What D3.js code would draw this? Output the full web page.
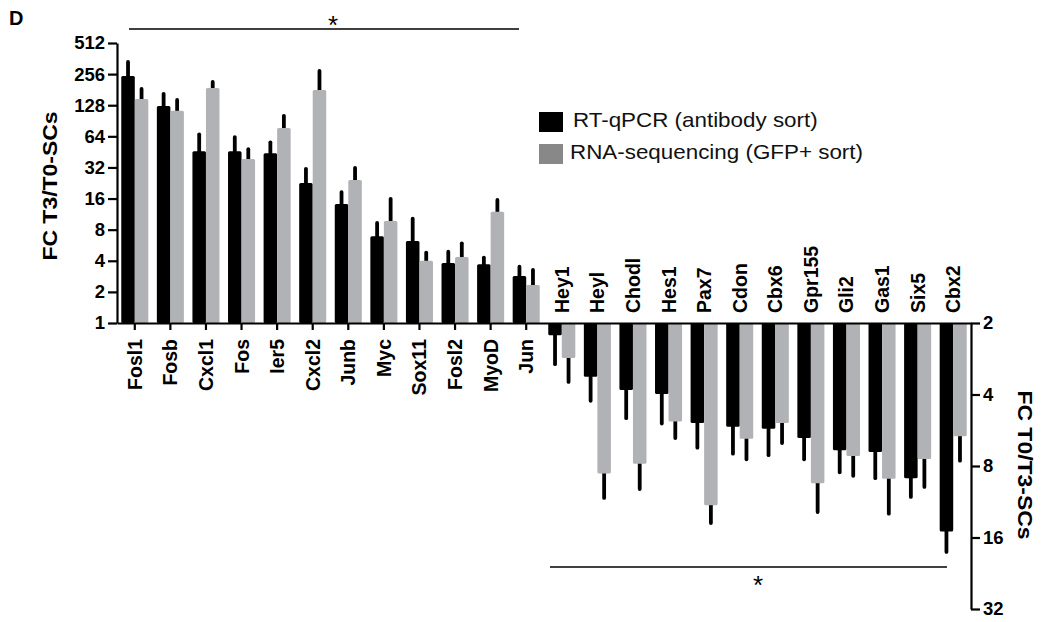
<!DOCTYPE html>
<html>
<head>
<meta charset="utf-8">
<script src="https://cdn.jsdelivr.net/npm/d3@7"></script>
<style>
  body { margin: 0; background: #fff; }
  text { font-family: "Liberation Sans", Arial, sans-serif; }
</style>
</head>
<body>
<svg id="chart" width="1041" height="622"></svg>
<script>
// up-regulated genes (T3 vs T0), left axis
let upGenes = ["Fosl1", "Fosb", "Cxcl1", "Fos", "Ier5", "Cxcl2", "Junb", "Myc", "Sox11", "Fosl2", "MyoD", "Jun"];
let upQpcr = [246, 126, 46, 46, 44, 22.6, 14.2, 6.9, 6.2, 3.8, 3.7, 2.85];
let upQpcrErr = [336, 165, 67, 63, 56, 31, 18.5, 9.3, 10.2, 4.9, 4.3, 3.5];
let upSeq = [147, 113, 188, 38.7, 77, 180, 24.2, 9.7, 4.0, 4.35, 11.9, 2.33];
let upSeqErr = [184, 144, 215, 48, 101, 275, 31.6, 15.9, 4.8, 5.9, 15.5, 3.26];

// down-regulated genes (T0 vs T3), right axis
let downGenes = ["Hey1", "Heyl", "Chodl", "Hes1", "Pax7", "Cdon", "Cbx6", "Gpr155", "Gli2", "Gas1", "Six5", "Cbx2"];
let downQpcr = [2.25, 3.37, 3.83, 3.98, 5.27, 5.47, 5.58, 6.1, 6.86, 6.98, 9.0, 15.1];
let downQpcrErr = [2.98, 4.25, 5.03, 5.3, 6.7, 7.1, 7.2, 7.5, 8.5, 9.0, 10.8, 18.4];
let downSeq = [2.81, 8.6, 7.83, 5.2, 11.7, 6.14, 5.27, 9.45, 7.26, 9.06, 7.47, 6.0];
let downSeqErr = [3.54, 10.9, 10.0, 6.1, 13.9, 7.5, 6.4, 12.5, 8.8, 12.7, 9.8, 7.6];

let leftTicks = [1, 2, 4, 8, 16, 32, 64, 128, 256, 512];
let rightTicks = [2, 4, 8, 16, 32];
let series = ["RT-qPCR (antibody sort)", "RNA-sequencing (GFP+ sort)"];
let barColors = ["#000000", "#b1b2b6"];
let legendColors = ["#000000", "#888888"];

let svg = d3.select("#chart");
let baseY = 323;

let x = d3.scaleBand()
  .domain(upGenes.concat(downGenes))
  .range([117, 971])
  .paddingInner(0.24)
  .paddingOuter(0.12);

let sub = d3.scaleBand()
  .domain([0, 1])
  .range([0, x.bandwidth()]);

let yLeft = d3.scaleLog().base(2).domain([1, 512]).range([baseY, 43]);
let yRight = d3.scaleLog().base(2).domain([2, 32]).range([baseY, 609]);

// rows for bars
let rows = [];
upGenes.forEach(function(g, i) {
  rows.push({ gene: g, s: 0, v: upQpcr[i], e: upQpcrErr[i], side: "up" });
  rows.push({ gene: g, s: 1, v: upSeq[i], e: upSeqErr[i], side: "up" });
});
downGenes.forEach(function(g, i) {
  rows.push({ gene: g, s: 0, v: downQpcr[i], e: downQpcrErr[i], side: "down" });
  rows.push({ gene: g, s: 1, v: downSeq[i], e: downSeqErr[i], side: "down" });
});

function yOf(d, v) {
  return d.side == "up" ? yLeft(v) : yRight(v);
}

// error bars
svg.append("g")
  .selectAll("line")
  .data(rows)
  .enter()
  .append("line")
  .attr("x1", function(d) { return x(d.gene) + sub(d.s) + sub.bandwidth() / 2; })
  .attr("x2", function(d) { return x(d.gene) + sub(d.s) + sub.bandwidth() / 2; })
  .attr("y1", function(d) { return yOf(d, d.v); })
  .attr("y2", function(d) { return yOf(d, d.e); })
  .attr("stroke", "#000")
  .attr("stroke-width", 3.8)
  .attr("stroke-linecap", "round");

// bars
svg.append("g")
  .selectAll("rect")
  .data(rows)
  .enter()
  .append("rect")
  .attr("x", function(d) { return x(d.gene) + sub(d.s); })
  .attr("width", sub.bandwidth())
  .attr("y", function(d) { return Math.min(baseY, yOf(d, d.v)); })
  .attr("height", function(d) { return Math.abs(yOf(d, d.v) - baseY); })
  .attr("rx", 1.5)
  .attr("fill", function(d) { return barColors[d.s]; });

// left axis
let gl = svg.append("g")
  .attr("transform", "translate(117,0)")
  .call(d3.axisLeft(yLeft).tickValues(leftTicks).tickFormat(d3.format("d")).tickSize(9).tickSizeOuter(0));

// bottom baseline with ticks under up genes
let gb = svg.append("g")
  .attr("transform", "translate(0," + baseY + ")")
  .call(d3.axisBottom(x).tickValues(upGenes).tickFormat("").tickSize(7).tickSizeOuter(0));

// right axis
let gr = svg.append("g")
  .attr("transform", "translate(971,0)")
  .call(d3.axisRight(yRight).tickValues(rightTicks).tickFormat(d3.format("d")).tickSize(9).tickSizeOuter(0));

[gl, gb, gr].forEach(function(g) {
  g.selectAll("path, line").attr("stroke", "#000").attr("stroke-width", 2.2);
  g.selectAll("text")
    .attr("fill", "#000")
    .style("font-size", "18.5px")
    .style("font-weight", "bold")
    .style("font-family", "'Liberation Sans', Arial, sans-serif");
});
gl.selectAll("text").attr("x", -12);
gr.selectAll("text").attr("x", 12);

// gene labels
svg.append("g")
  .selectAll("text")
  .data(upGenes)
  .enter()
  .append("text")
  .attr("transform", function(d) {
    return "translate(" + (x(d) + x.bandwidth() / 2 + 7) + "," + (baseY + 16) + ") rotate(-90)";
  })
  .attr("text-anchor", "end")
  .style("font-size", "19.5px")
  .style("font-weight", "bold")
  .text(function(d) { return d; });

svg.append("g")
  .selectAll("text")
  .data(downGenes)
  .enter()
  .append("text")
  .attr("transform", function(d) {
    return "translate(" + (x(d) + x.bandwidth() / 2 + 7) + "," + (baseY - 10) + ") rotate(-90)";
  })
  .attr("text-anchor", "start")
  .style("font-size", "19.5px")
  .style("font-weight", "bold")
  .text(function(d) { return d; });

// axis titles
svg.append("text")
  .attr("transform", "translate(57,186) rotate(-90) scale(1.12,1)")
  .attr("text-anchor", "middle")
  .style("font-size", "20.5px")
  .style("font-weight", "bold")
  .text("FC T3/T0-SCs");

svg.append("text")
  .attr("transform", "translate(1018,465) rotate(90) scale(1.12,1)")
  .attr("text-anchor", "middle")
  .style("font-size", "20.5px")
  .style("font-weight", "bold")
  .text("FC T0/T3-SCs");

// panel letter
svg.append("text")
  .attr("x", 9)
  .attr("y", 25)
  .style("font-size", "20px")
  .style("font-weight", "bold")
  .text("D");

// significance brackets
svg.append("line")
  .attr("x1", 129).attr("x2", 519).attr("y1", 29).attr("y2", 29)
  .attr("stroke", "#000").attr("stroke-width", 1.3);
svg.append("text")
  .attr("x", 333).attr("y", 34)
  .attr("text-anchor", "middle")
  .style("font-size", "26px")
  .text("*");

svg.append("line")
  .attr("x1", 550).attr("x2", 947).attr("y1", 567).attr("y2", 567)
  .attr("stroke", "#000").attr("stroke-width", 1.3);
svg.append("text")
  .attr("x", 758).attr("y", 594)
  .attr("text-anchor", "middle")
  .style("font-size", "26px")
  .text("*");

// legend
let lg = svg.append("g")
  .selectAll("g")
  .data(series)
  .enter()
  .append("g")
  .attr("transform", function(d, i) { return "translate(539," + (112 + i * 32) + ")"; });

lg.append("rect")
  .attr("width", 24)
  .attr("height", 20)
  .attr("fill", function(d, i) { return legendColors[i]; });

lg.append("text")
  .attr("transform", function(d, i) { return "translate(" + (i == 0 ? 34 : 31) + ",15) scale(1.12,1)"; })
  .style("font-size", "20px")
  .style("fill", "#111")
  .text(function(d) { return d; });
</script>
</body>
</html>
